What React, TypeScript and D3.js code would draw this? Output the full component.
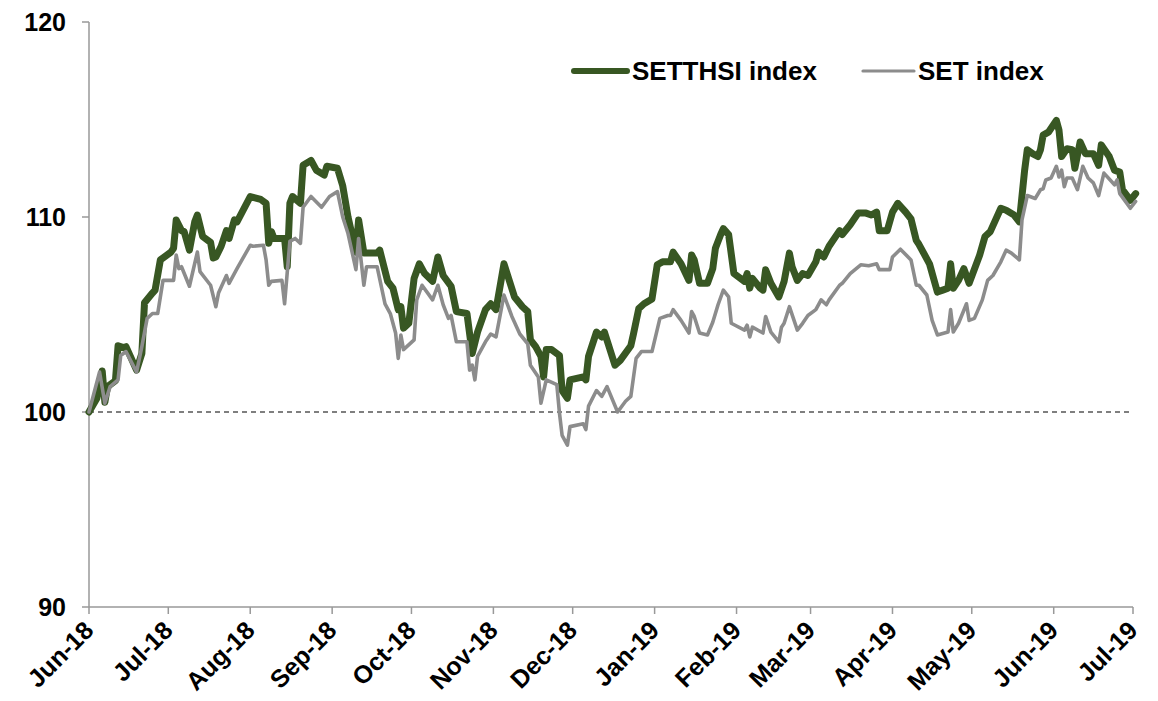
import React from "react";
import * as d3 from "d3";

const SETTHSI: [string, number][] = [
  ["2018-06-01",100.0],["2018-06-04",100.7],["2018-06-06",102.1],["2018-06-07",100.5],["2018-06-08",101.3],
  ["2018-06-11",101.6],["2018-06-12",103.4],["2018-06-14",103.3],["2018-06-15",103.35],["2018-06-19",102.15],
  ["2018-06-21",103.0],["2018-06-22",105.6],["2018-06-25",106.1],["2018-06-26",106.25],["2018-06-28",107.8],
  ["2018-07-02",108.2],["2018-07-03",108.4],["2018-07-04",109.85],["2018-07-06",109.3],["2018-07-07",109.25],
  ["2018-07-09",108.3],["2018-07-11",109.75],["2018-07-12",110.1],["2018-07-14",109.0],["2018-07-17",108.7],
  ["2018-07-18",107.9],["2018-07-19",107.95],["2018-07-21",108.5],["2018-07-23",109.3],["2018-07-24",108.9],
  ["2018-07-26",109.85],["2018-07-27",109.75],["2018-08-01",111.05],["2018-08-05",110.9],["2018-08-07",110.7],
  ["2018-08-08",108.65],["2018-08-09",109.25],["2018-08-10",108.9],["2018-08-14",108.9],["2018-08-15",107.45],
  ["2018-08-16",110.7],["2018-08-17",111.05],["2018-08-20",110.7],["2018-08-21",112.65],["2018-08-24",112.9],
  ["2018-08-26",112.4],["2018-08-29",112.15],["2018-08-30",112.6],["2018-09-03",112.5],["2018-09-05",111.6],
  ["2018-09-07",110.0],["2018-09-10",108.2],["2018-09-11",109.85],["2018-09-13",108.15],["2018-09-18",108.15],
  ["2018-09-19",108.3],["2018-09-22",106.7],["2018-09-24",106.35],["2018-09-26",105.25],["2018-09-27",105.4],
  ["2018-09-28",104.3],["2018-09-30",104.55],["2018-10-02",106.85],["2018-10-04",107.6],["2018-10-06",107.1],
  ["2018-10-09",106.7],["2018-10-11",107.95],["2018-10-13",107.0],["2018-10-16",106.45],["2018-10-18",105.15],
  ["2018-10-22",105.05],["2018-10-24",103.0],["2018-10-26",104.1],["2018-10-29",105.25],["2018-10-31",105.55],
  ["2018-11-02",105.25],["2018-11-05",107.6],["2018-11-09",105.9],["2018-11-12",105.4],["2018-11-14",105.15],
  ["2018-11-15",103.7],["2018-11-17",103.35],["2018-11-19",102.85],["2018-11-20",101.8],["2018-11-21",103.2],
  ["2018-11-23",103.2],["2018-11-26",102.9],["2018-11-27",101.1],["2018-11-29",100.7],["2018-11-30",101.65],
  ["2018-12-05",101.8],["2018-12-06",101.65],["2018-12-07",102.85],["2018-12-10",104.1],["2018-12-12",103.85],
  ["2018-12-13",104.1],["2018-12-17",102.4],["2018-12-19",102.65],["2018-12-23",103.4],["2018-12-24",104.0],
  ["2018-12-26",105.3],["2018-12-28",105.55],["2018-12-31",105.8],["2019-01-02",107.55],["2019-01-04",107.7],
  ["2019-01-07",107.7],["2019-01-08",108.2],["2019-01-11",107.6],["2019-01-14",106.75],["2019-01-15",108.05],
  ["2019-01-16",107.8],["2019-01-18",106.6],["2019-01-21",106.6],["2019-01-23",107.35],["2019-01-24",108.4],
  ["2019-01-26",109.1],["2019-01-27",109.4],["2019-01-29",109.1],["2019-01-31",107.1],["2019-02-04",106.7],
  ["2019-02-05",107.1],["2019-02-06",106.35],["2019-02-07",106.85],["2019-02-10",106.35],["2019-02-11",106.25],
  ["2019-02-12",107.3],["2019-02-14",106.6],["2019-02-17",105.9],["2019-02-19",106.7],["2019-02-21",108.15],
  ["2019-02-22",107.45],["2019-02-24",106.75],["2019-02-26",107.1],["2019-02-28",107.0],["2019-03-03",107.7],
  ["2019-03-04",108.2],["2019-03-06",107.95],["2019-03-08",108.5],["2019-03-12",109.3],["2019-03-13",109.1],
  ["2019-03-16",109.6],["2019-03-19",110.2],["2019-03-22",110.2],["2019-03-24",110.1],["2019-03-26",110.25],
  ["2019-03-27",109.3],["2019-03-30",109.3],["2019-04-01",110.25],["2019-04-03",110.7],["2019-04-06",110.25],
  ["2019-04-08",109.9],["2019-04-10",108.8],["2019-04-11",108.6],["2019-04-15",107.6],["2019-04-18",106.15],
  ["2019-04-20",106.25],["2019-04-22",106.35],["2019-04-23",107.6],["2019-04-24",106.35],["2019-04-26",106.75],
  ["2019-04-28",107.35],["2019-04-30",106.6],["2019-05-04",108.05],["2019-05-06",109.0],["2019-05-08",109.25],
  ["2019-05-10",109.85],["2019-05-12",110.45],["2019-05-14",110.35],["2019-05-17",110.1],["2019-05-19",109.75],
  ["2019-05-21",112.4],["2019-05-22",113.45],["2019-05-24",113.25],["2019-05-26",113.1],["2019-05-27",113.45],
  ["2019-05-28",114.2],["2019-05-30",114.35],["2019-06-02",114.95],["2019-06-03",114.45],["2019-06-04",113.1],
  ["2019-06-06",113.5],["2019-06-08",113.45],["2019-06-09",112.5],["2019-06-11",113.85],["2019-06-13",113.25],
  ["2019-06-16",113.25],["2019-06-18",112.65],["2019-06-19",113.7],["2019-06-22",113.1],["2019-06-24",112.4],
  ["2019-06-26",112.3],["2019-06-27",111.4],["2019-06-29",111.05],["2019-06-30",110.85],["2019-07-02",111.2],
];

const SET: [string, number][] = [
  ["2018-06-01",100.0],["2018-06-05",102.05],["2018-06-07",100.45],["2018-06-09",101.3],["2018-06-12",101.65],
  ["2018-06-13",102.9],["2018-06-15",103.1],["2018-06-19",102.05],["2018-06-21",103.35],["2018-06-23",104.8],
  ["2018-06-25",105.05],["2018-06-27",105.05],["2018-06-29",106.75],["2018-07-03",106.75],["2018-07-04",108.05],
  ["2018-07-05",107.35],["2018-07-06",107.45],["2018-07-09",106.45],["2018-07-12",108.2],["2018-07-13",107.2],
  ["2018-07-17",106.5],["2018-07-19",105.4],["2018-07-20",106.1],["2018-07-23",107.0],["2018-07-24",106.6],
  ["2018-07-27",107.35],["2018-08-01",108.55],["2018-08-02",108.5],["2018-08-06",108.55],["2018-08-07",107.8],
  ["2018-08-08",106.5],["2018-08-09",106.7],["2018-08-13",106.75],["2018-08-14",105.55],["2018-08-16",108.75],
  ["2018-08-18",108.9],["2018-08-20",108.65],["2018-08-21",110.5],["2018-08-24",111.05],["2018-08-28",110.5],
  ["2018-08-31",111.05],["2018-09-03",111.3],["2018-09-05",110.0],["2018-09-07",109.15],["2018-09-10",107.3],
  ["2018-09-11",108.9],["2018-09-13",106.5],["2018-09-14",107.45],["2018-09-18",107.45],["2018-09-21",105.55],
  ["2018-09-23",105.05],["2018-09-25",104.05],["2018-09-26",102.75],["2018-09-27",103.95],["2018-09-28",103.2],
  ["2018-10-02",103.7],["2018-10-03",105.75],["2018-10-05",106.5],["2018-10-09",105.75],["2018-10-11",106.5],
  ["2018-10-13",105.5],["2018-10-15",104.8],["2018-10-16",104.95],["2018-10-18",103.6],["2018-10-22",103.6],
  ["2018-10-23",102.15],["2018-10-24",102.4],["2018-10-25",101.65],["2018-10-26",102.85],["2018-10-29",103.6],
  ["2018-10-31",104.0],["2018-11-02",103.85],["2018-11-05",106.0],["2018-11-08",104.9],["2018-11-11",104.0],
  ["2018-11-14",103.5],["2018-11-15",102.4],["2018-11-18",101.8],["2018-11-19",100.45],["2018-11-21",101.65],
  ["2018-11-25",101.4],["2018-11-26",99.95],["2018-11-27",98.8],["2018-11-29",98.3],["2018-11-30",99.25],
  ["2018-12-05",99.4],["2018-12-06",99.1],["2018-12-07",100.3],["2018-12-10",101.1],["2018-12-12",100.8],
  ["2018-12-14",101.3],["2018-12-18",100.0],["2018-12-21",100.55],["2018-12-23",100.8],["2018-12-25",102.75],
  ["2018-12-27",103.1],["2018-12-31",103.1],["2019-01-03",104.8],["2019-01-06",104.95],["2019-01-07",104.95],
  ["2019-01-08",105.25],["2019-01-11",104.7],["2019-01-14",104.05],["2019-01-15",105.15],["2019-01-16",104.9],
  ["2019-01-18",104.05],["2019-01-21",103.95],["2019-01-23",104.6],["2019-01-25",105.5],["2019-01-27",106.25],
  ["2019-01-29",105.9],["2019-01-30",104.55],["2019-02-04",104.2],["2019-02-05",104.45],["2019-02-06",103.85],
  ["2019-02-07",104.35],["2019-02-11",104.05],["2019-02-12",104.9],["2019-02-14",104.1],["2019-02-17",103.6],
  ["2019-02-18",104.35],["2019-02-19",104.55],["2019-02-21",105.4],["2019-02-24",104.2],["2019-02-26",104.55],
  ["2019-02-28",104.95],["2019-03-03",105.25],["2019-03-05",105.75],["2019-03-07",105.5],["2019-03-08",105.75],
  ["2019-03-12",106.5],["2019-03-13",106.6],["2019-03-16",107.1],["2019-03-20",107.55],["2019-03-23",107.5],
  ["2019-03-26",107.6],["2019-03-27",107.3],["2019-03-31",107.3],["2019-04-01",107.95],["2019-04-04",108.35],
  ["2019-04-08",107.8],["2019-04-10",106.5],["2019-04-11",106.5],["2019-04-14",106.0],["2019-04-16",104.7],
  ["2019-04-18",103.95],["2019-04-22",104.1],["2019-04-23",105.25],["2019-04-24",104.1],["2019-04-26",104.55],
  ["2019-04-29",105.55],["2019-04-30",104.7],["2019-05-02",104.8],["2019-05-05",105.75],["2019-05-07",106.75],
  ["2019-05-09",107.0],["2019-05-12",107.7],["2019-05-14",108.3],["2019-05-16",108.15],["2019-05-19",107.8],
  ["2019-05-20",109.85],["2019-05-22",111.1],["2019-05-25",110.95],["2019-05-27",111.4],["2019-05-28",111.45],
  ["2019-05-29",111.9],["2019-05-31",112.0],["2019-06-02",112.6],["2019-06-03",112.05],["2019-06-04",112.4],
  ["2019-06-05",111.55],["2019-06-06",112.0],["2019-06-08",112.0],["2019-06-10",111.4],["2019-06-12",112.6],
  ["2019-06-14",112.0],["2019-06-16",111.75],["2019-06-18",111.1],["2019-06-20",112.25],["2019-06-24",111.65],
  ["2019-06-25",111.9],["2019-06-26",111.2],["2019-06-30",110.45],["2019-07-02",110.8],
];

const Y_TICKS = [90, 100, 110, 120];
const BASELINE = 100;
const X_START = "2018-06-01";
const X_END = "2019-07-01";
const SERIES_NAMES = ["SETTHSI index", "SET index"];

const W = 1158, H = 701;
const M = { left: 89, right: 1133, top: 22, bottom: 607 };
const FONT = "'Liberation Sans', Arial, Helvetica, sans-serif";

export default function App() {
  const parse = d3.utcParse("%Y-%m-%d");
  const x = d3.scaleUtc().domain([parse(X_START)!, parse(X_END)!]).range([M.left, M.right]);
  const y = d3.scaleLinear().domain([90, 120]).range([M.bottom, M.top]);
  const line = d3.line<[string, number]>()
    .x((d) => x(parse(d[0])!))
    .y((d) => y(d[1]));
  const months = d3.utcMonth.range(parse(X_START)!, d3.utcDay.offset(parse(X_END)!, 1));
  const fmt = d3.utcFormat("%b-%y");
  const axisColor = "#999999";
  const green = "#385723";
  const gray = "#8c8c8c";

  return (
    <svg width={W} height={H} style={{ position: "absolute", left: 0, top: 0, background: "#fff" }}
      fontFamily={FONT} fontWeight="bold">
      <line x1={M.left} x2={M.right} y1={y(BASELINE)} y2={y(BASELINE)} stroke="#555" strokeWidth={1.3} strokeDasharray="5,4" />
      <line x1={M.left} x2={M.left} y1={M.top} y2={M.bottom} stroke={axisColor} strokeWidth={1.5} />
      {Y_TICKS.map((t) => (
        <g key={t}>
          <line x1={M.left - 7} x2={M.left} y1={y(t)} y2={y(t)} stroke={axisColor} strokeWidth={1.5} />
          <text x={66} y={y(t)} dy="0.35em" textAnchor="end" fontSize={25} fill="#000">{t}</text>
        </g>
      ))}
      <line x1={M.left} x2={M.right} y1={M.bottom} y2={M.bottom} stroke={axisColor} strokeWidth={1.5} />
      {months.map((m) => (
        <g key={m.toISOString()}>
          <line x1={x(m)} x2={x(m)} y1={M.bottom} y2={M.bottom + 7} stroke={axisColor} strokeWidth={1.5} />
          <text transform={`translate(${x(m) + 6},${M.bottom + 25}) rotate(-45)`} textAnchor="end" fontSize={25} fill="#000">
            {fmt(m)}
          </text>
        </g>
      ))}
      <path d={line(SETTHSI) || ""} fill="none" stroke={green} strokeWidth={7} strokeLinejoin="round" strokeLinecap="round" />
      <path d={line(SET) || ""} fill="none" stroke={gray} strokeWidth={3.6} strokeLinejoin="round" strokeLinecap="round" />
      <line x1={574} x2={627} y1={71} y2={71} stroke={green} strokeWidth={6} strokeLinecap="round" />
      <text x={632} y={80} fontSize={26} fill="#000">{SERIES_NAMES[0]}</text>
      <line x1={863} x2={914} y1={71} y2={71} stroke={gray} strokeWidth={3.2} strokeLinecap="round" />
      <text x={918} y={80} fontSize={26} fill="#000">{SERIES_NAMES[1]}</text>
    </svg>
  );
}
